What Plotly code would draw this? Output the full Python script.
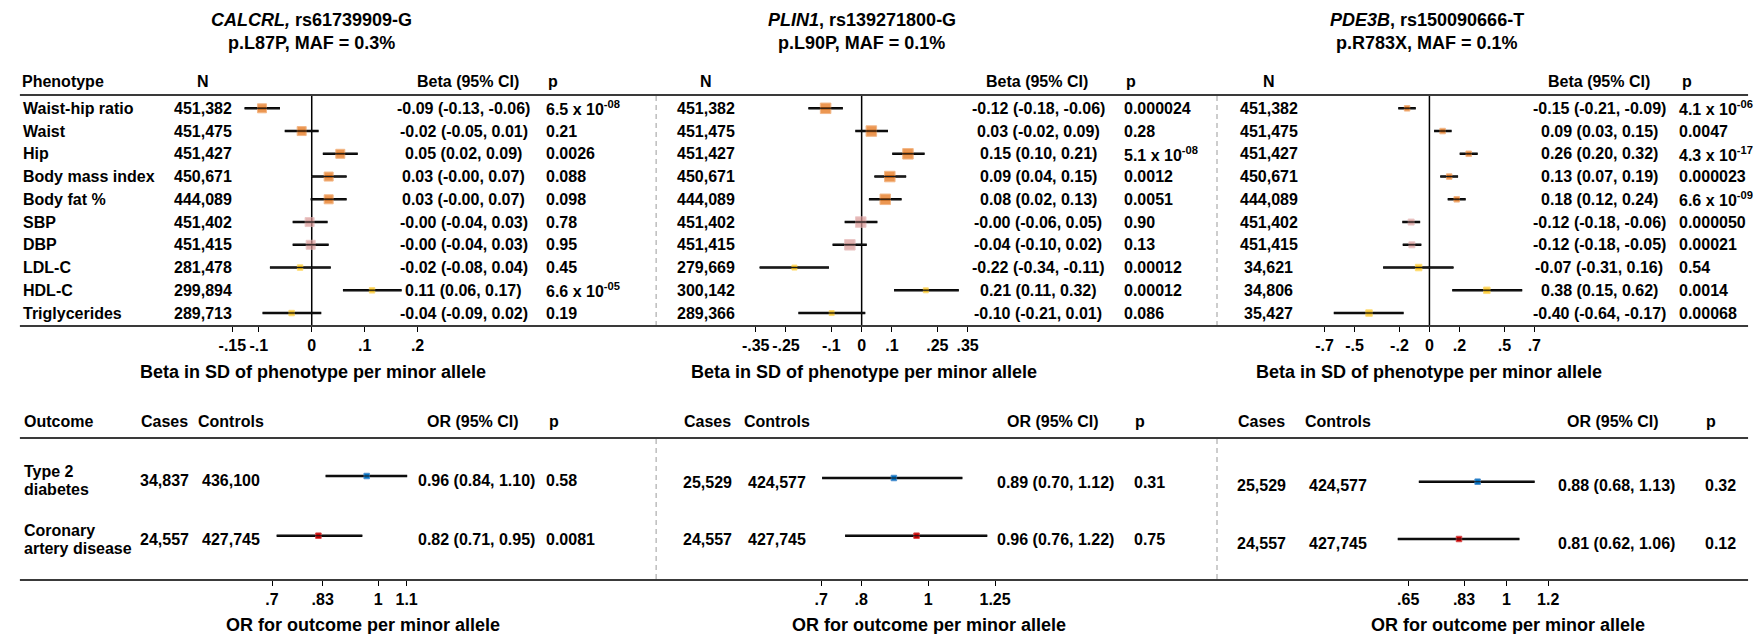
import numpy as np
import plotly.graph_objects as go

# ======================= DATA =======================
phenotypes = ["Waist-hip ratio", "Waist", "Hip", "Body mass index", "Body fat %",
              "SBP", "DBP", "LDL-C", "HDL-C", "Triglycerides"]
pheno_group = ["anthro"] * 5 + ["bp"] * 2 + ["lipid"] * 3

title_line1 = ["<i>CALCRL,</i> rs61739909-G", "<i>PLIN1</i>, rs139271800-G", "<i>PDE3B</i>, rs150090666-T"]
title_line2 = ["p.L87P, MAF = 0.3%", "p.L90P, MAF = 0.1%", "p.R783X, MAF = 0.1%"]

# CALCRL
calcrl_n = [451382, 451475, 451427, 450671, 444089, 451402, 451415, 281478, 299894, 289713]
calcrl_beta = [-0.094, -0.019, 0.054, 0.032, 0.032, -0.004, -0.002, -0.022, 0.114, -0.038]
calcrl_lo = [-0.127, -0.051, 0.021, -0.001, -0.002, -0.036, -0.036, -0.079, 0.059, -0.093]
calcrl_hi = [-0.060, 0.013, 0.087, 0.066, 0.066, 0.030, 0.032, 0.036, 0.170, 0.018]
calcrl_p = ["6.5 x 10<sup>-08</sup>", "0.21", "0.0026", "0.088", "0.098", "0.78", "0.95", "0.45",
            "6.6 x 10<sup>-05</sup>", "0.19"]

# PLIN1
plin1_n = [451382, 451475, 451427, 450671, 444089, 451402, 451415, 279669, 300142, 289366]
plin1_beta = [-0.119, 0.032, 0.153, 0.093, 0.078, -0.003, -0.039, -0.222, 0.212, -0.099]
plin1_lo = [-0.176, -0.021, 0.101, 0.042, 0.024, -0.056, -0.096, -0.337, 0.107, -0.209]
plin1_hi = [-0.062, 0.087, 0.208, 0.147, 0.132, 0.052, 0.017, -0.108, 0.321, 0.012]
plin1_p = ["0.000024", "0.28", "5.1 x 10<sup>-08</sup>", "0.0012", "0.0051", "0.90", "0.13",
           "0.00012", "0.00012", "0.086"]

# PDE3B
pde3b_n = [451382, 451475, 451427, 450671, 444089, 451402, 451415, 34621, 34806, 35427]
pde3b_beta = [-0.149, 0.088, 0.262, 0.132, 0.182, -0.122, -0.117, -0.072, 0.383, -0.403]
pde3b_lo = [-0.208, 0.031, 0.202, 0.072, 0.122, -0.181, -0.178, -0.309, 0.152, -0.638]
pde3b_hi = [-0.091, 0.148, 0.322, 0.191, 0.242, -0.062, -0.054, 0.161, 0.619, -0.172]
pde3b_p = ["4.1 x 10<sup>-06</sup>", "0.0047", "4.3 x 10<sup>-17</sup>", "0.000023",
           "6.6 x 10<sup>-09</sup>", "0.000050", "0.00021", "0.54", "0.0014", "0.00068"]

outcomes = ["Type 2\ndiabetes", "Coronary\nartery disease"]
outcome_group = ["t2d", "cad"]

calcrl_cases = [34837, 24557]
calcrl_controls = [436100, 427745]
calcrl_or = [0.962, 0.818]
calcrl_or_lo = [0.838, 0.711]
calcrl_or_hi = [1.102, 0.948]
calcrl_or_p = ["0.58", "0.0081"]

plin1_cases = [25529, 24557]
plin1_controls = [424577, 427745]
plin1_or = [0.892, 0.962]
plin1_or_lo = [0.702, 0.758]
plin1_or_hi = [1.121, 1.218]
plin1_or_p = ["0.31", "0.75"]

pde3b_cases = [25529, 24557]
pde3b_controls = [424577, 427745]
pde3b_or = [0.881, 0.812]
pde3b_or_lo = [0.681, 0.621]
pde3b_or_hi = [1.131, 1.058]
pde3b_or_p = ["0.32", "0.12"]

beta_ticks_calcrl = [-0.15, -0.1, 0, 0.1, 0.2]
beta_ticks_plin1 = [-0.35, -0.25, -0.1, 0, 0.1, 0.25, 0.35]
beta_ticks_pde3b = [-0.7, -0.5, -0.2, 0, 0.2, 0.5, 0.7]
or_ticks_calcrl = [0.7, 0.83, 1, 1.1]
or_ticks_plin1 = [0.7, 0.8, 1, 1.25]
or_ticks_pde3b = [0.65, 0.83, 1, 1.2]

beta_null = 0.0
or_null = 1.0

# ======================= STYLE / GEOMETRY =======================
W, H = 1763, 634
FONT = "Liberation Sans, Arial, Helvetica, sans-serif"
FS = 16
group_color = {"anthro": "#E46C0A", "bp": "#D99694", "lipid": "#FFC000",
               "t2d": "#0070C0", "cad": "#C00000"}
group_edge = {"anthro": "#EE9A55", "bp": "#E4B2B1", "lipid": "#FFD040",
              "t2d": "#4F91D0", "cad": "#DA4B4B"}

LINE_X0, LINE_X1 = 14, 1755
TOP_Y0, TOP_Y1 = 95, 326
BOT_Y0, BOT_Y1 = 438, 580
ROW0, ROW_STEP = 108.3, 22.75
SEP_X = [655, 1220]

top_geom = [
    dict(dom=(220, 420), zero=308, scale=533, n_x=198, est_x=461, p_x=542, hdr_est_x=465, hdr_p_x=544,
         title_x=308, axtitle_x=309, sizes={"anthro": 9, "bp": 9, "lipid": 5.5}),
    dict(dom=(745, 980), zero=862, scale=305, n_x=705, est_x=1040, p_x=1124, hdr_est_x=1039, hdr_p_x=1126,
         title_x=862, axtitle_x=864, sizes={"anthro": 10.5, "bp": 10.5, "lipid": 5}),
    dict(dom=(1320, 1550), zero=1434, scale=151, n_x=1272, est_x=1605, p_x=1683, hdr_est_x=1605, hdr_p_x=1686,
         title_x=1432, axtitle_x=1434, sizes={"anthro": 5.5, "bp": 6, "lipid": 6.5}),
]
bot_geom = [
    dict(dom=(255, 420), one=375, scale_ln=300, rows=(476, 535.7), cases_x=160, ctrl_x=227, est_x=474,
         p_x=542, hdr_est_x=470, hdr_p_x=545, axtitle_x=360, size=5.5),
    dict(dom=(805, 1005), one=929, scale_ln=302, rows=(478, 535.7), cases_x=707, ctrl_x=777, est_x=1057,
         p_x=1134, hdr_est_x=1055, hdr_p_x=1135, axtitle_x=930, size=5.5),
    dict(dom=(1390, 1565), one=1511.7, scale_ln=230, rows=(481.7, 539), cases_x=1265, ctrl_x=1342, est_x=1622,
         p_x=1710, hdr_est_x=1619, hdr_p_x=1711, axtitle_x=1513, size=5.5),
]

top_data = [
    dict(n=calcrl_n, est=calcrl_beta, lo=calcrl_lo, hi=calcrl_hi, p=calcrl_p, ticks=beta_ticks_calcrl),
    dict(n=plin1_n, est=plin1_beta, lo=plin1_lo, hi=plin1_hi, p=plin1_p, ticks=beta_ticks_plin1),
    dict(n=pde3b_n, est=pde3b_beta, lo=pde3b_lo, hi=pde3b_hi, p=pde3b_p, ticks=beta_ticks_pde3b),
]
bot_data = [
    dict(cases=calcrl_cases, ctrl=calcrl_controls, est=calcrl_or, lo=calcrl_or_lo, hi=calcrl_or_hi,
         p=calcrl_or_p, ticks=or_ticks_calcrl),
    dict(cases=plin1_cases, ctrl=plin1_controls, est=plin1_or, lo=plin1_or_lo, hi=plin1_or_hi,
         p=plin1_or_p, ticks=or_ticks_plin1),
    dict(cases=pde3b_cases, ctrl=pde3b_controls, est=pde3b_or, lo=pde3b_or_lo, hi=pde3b_or_hi,
         p=pde3b_or_p, ticks=or_ticks_pde3b),
]


def px_x(px):
    return px / W


def px_y(py):
    return 1 - py / H


def tick_label(v):
    s = f"{v:g}"
    if s.startswith("0."):
        s = s[1:]
    elif s.startswith("-0."):
        s = "-" + s[2:]
    return s


def fmt_ci(e, l, h):
    return f"{e:.2f} ({l:.2f}, {h:.2f})"


def font(size=FS):
    return dict(family=FONT, size=size, color="black", weight="bold")


fig = go.Figure()
annotations = []
shapes = []
layout_axes = {}


def ann(text, x, y, xref="paper", yref="paper", xanchor="center", size=FS, yshift=0):
    annotations.append(dict(text=text, x=x, y=y, xref=xref, yref=yref, xanchor=xanchor,
                            yanchor="middle", showarrow=False, font=font(size), yshift=yshift))


def axis_common(tickvals):
    return dict(tickvals=tickvals, ticktext=[tick_label(v) for v in tickvals], ticks="outside",
                ticklen=5, tickwidth=1, tickcolor="black", showgrid=False, zeroline=False,
                showline=False, tickfont=font(FS), fixedrange=True)


def add_forest(est, rows, lo, hi, xname, yname, sizes, colors, edges):
    xs, ys = [], []
    for r, l, h in zip(rows, lo, hi):
        xs += [l, h, None]
        ys += [r, r, None]
    # thick CI line, then the box, then a thin CI line through the box
    fig.add_trace(go.Scatter(x=xs, y=ys, mode="lines", xaxis=xname, yaxis=yname, cliponaxis=False,
                             line=dict(color="black", width=2.6), hoverinfo="skip", showlegend=False))
    fig.add_trace(go.Scatter(
        x=est, y=rows, mode="markers", xaxis=xname, yaxis=yname, cliponaxis=False,
        marker=dict(symbol="square", size=sizes, color=colors, line=dict(color=edges, width=1)),
        hoverinfo="skip", showlegend=False))
    fig.add_trace(go.Scatter(x=xs, y=ys, mode="lines", xaxis=xname, yaxis=yname, cliponaxis=False,
                             line=dict(color="#1a1a1a", width=1.1), hoverinfo="skip", showlegend=False))


# ---------- top y axis (shared) ----------
layout_axes["yaxis"] = dict(domain=[px_y(TOP_Y1), px_y(TOP_Y0)],
                            range=[(TOP_Y1 - ROW0) / ROW_STEP, (TOP_Y0 - ROW0) / ROW_STEP],
                            visible=False, anchor="x", fixedrange=True)
rows_top = list(range(len(phenotypes)))

for i, (g, d) in enumerate(zip(top_geom, top_data)):
    xname = "x" if i == 0 else f"x{i + 1}"
    xkey = "xaxis" if i == 0 else f"xaxis{i + 1}"
    d0, d1 = g["dom"]
    ax = axis_common(d["ticks"])
    ax.update(domain=[px_x(d0), px_x(d1)],
              range=[(d0 - g["zero"]) / g["scale"], (d1 - g["zero"]) / g["scale"]], anchor="y")
    layout_axes[xkey] = ax

    add_forest(d["est"], rows_top, d["lo"], d["hi"], xname, "y",
               [g["sizes"][k] for k in pheno_group],
               [group_color[k] for k in pheno_group],
               [group_edge[k] for k in pheno_group])

    shapes.append(dict(type="line", xref=xname, yref="y domain", x0=beta_null, x1=beta_null, y0=0, y1=1,
                       line=dict(color="black", width=1.5), layer="below"))

    # titles & headers
    ann(title_line1[i], px_x(g["title_x"]), px_y(20), size=18)
    ann(title_line2[i], px_x(g["title_x"]), px_y(43), size=18)
    ann("N", px_x(g["n_x"]), px_y(82))
    ann("Beta (95% CI)", px_x(g["hdr_est_x"]), px_y(82))
    ann("p", px_x(g["hdr_p_x"]), px_y(82), xanchor="left")
    ann("Beta in SD of phenotype per minor allele", px_x(g["axtitle_x"]), px_y(372), size=18)

    for r, n, e, lo, hi, p in zip(rows_top, d["n"], d["est"], d["lo"], d["hi"], d["p"]):
        ann(f"{n:,}", px_x(g["n_x"]), r, yref="y")
        ann(fmt_ci(e, lo, hi), px_x(g["est_x"]), r, yref="y")
        ann(p, px_x(g["p_x"]), r, yref="y", xanchor="left")

ann("Phenotype", px_x(14), px_y(82), xanchor="left")
for r, name in zip(rows_top, phenotypes):
    ann(name, px_x(15), r, yref="y", xanchor="left")

# ---------- bottom panels ----------
rows_bot = list(range(len(outcomes)))
for j, (g, d) in enumerate(zip(bot_geom, bot_data)):
    xname, yname = f"x{4 + j}", f"y{2 + j}"
    r0, r1 = g["rows"]
    s = r1 - r0
    layout_axes[f"yaxis{2 + j}"] = dict(domain=[px_y(BOT_Y1), px_y(BOT_Y0)],
                                        range=[(BOT_Y1 - r0) / s, (BOT_Y0 - r0) / s],
                                        visible=False, anchor=xname, fixedrange=True)
    d0, d1 = g["dom"]
    k = g["scale_ln"] * np.log(10)
    ax = axis_common(d["ticks"])
    ax.update(type="log", domain=[px_x(d0), px_x(d1)],
              range=[(d0 - g["one"]) / k, (d1 - g["one"]) / k], anchor=yname)
    layout_axes[f"xaxis{4 + j}"] = ax

    add_forest(d["est"], rows_bot, d["lo"], d["hi"], xname, yname, g["size"],
               [group_color[k2] for k2 in outcome_group],
               [group_edge[k2] for k2 in outcome_group])
    shapes.append(dict(type="line", xref=xname, yref=f"{yname} domain", x0=np.log10(or_null),
                       x1=np.log10(or_null), y0=0, y1=1, line=dict(color="black", width=1.5),
                       layer="below"))

    ann("Cases", px_x(g["cases_x"]), px_y(421))
    ann("Controls", px_x(g["ctrl_x"]), px_y(421))
    ann("OR (95% CI)", px_x(g["hdr_est_x"]), px_y(421))
    ann("p", px_x(g["hdr_p_x"]), px_y(421), xanchor="left")
    ann("OR for outcome per minor allele", px_x(g["axtitle_x"]), px_y(625), size=18)

    for r, c, ct, e, lo, hi, p in zip(rows_bot, d["cases"], d["ctrl"], d["est"], d["lo"], d["hi"], d["p"]):
        ann(f"{c:,}", px_x(g["cases_x"]), r, yref=yname, yshift=-4)
        ann(f"{ct:,}", px_x(g["ctrl_x"]), r, yref=yname, yshift=-4)
        ann(fmt_ci(e, lo, hi), px_x(g["est_x"]), r, yref=yname, yshift=-4)
        ann(p, px_x(g["p_x"]), r, yref=yname, xanchor="left", yshift=-4)

    if j == 0:
        ann("Outcome", px_x(16.6), px_y(421), xanchor="left")
        for r, name in zip(rows_bot, outcomes):
            parts = name.split("\n")
            nlines = len(parts)
            for li, part in enumerate(parts):
                off = ((nlines - 1) / 2 - li) * 18
                ann(part, px_x(16.6), r, yref=yname, xanchor="left", yshift=-4 + off)

# ---------- separator lines ----------
for y in (TOP_Y0, TOP_Y1, BOT_Y0, BOT_Y1):
    shapes.append(dict(type="line", xref="paper", yref="paper", x0=px_x(LINE_X0), x1=px_x(LINE_X1),
                       y0=px_y(y), y1=px_y(y), line=dict(color="#3a3a3a", width=2)))
for sx in SEP_X:
    for ya, yb in ((TOP_Y0, TOP_Y1), (BOT_Y0, BOT_Y1)):
        shapes.append(dict(type="line", xref="paper", yref="paper", x0=px_x(sx), x1=px_x(sx),
                           y0=px_y(ya + 1), y1=px_y(yb - 1),
                           line=dict(color="#BDBDBD", width=1.5, dash="5px,4px")))

fig.update_layout(
    width=W, height=H, margin=dict(l=0, r=0, t=0, b=0, pad=0),
    paper_bgcolor="white", plot_bgcolor="white", showlegend=False,
    font=font(FS), annotations=annotations, shapes=shapes, **layout_axes)

fig.write_html("out.html", config={"displayModeBar": False})
